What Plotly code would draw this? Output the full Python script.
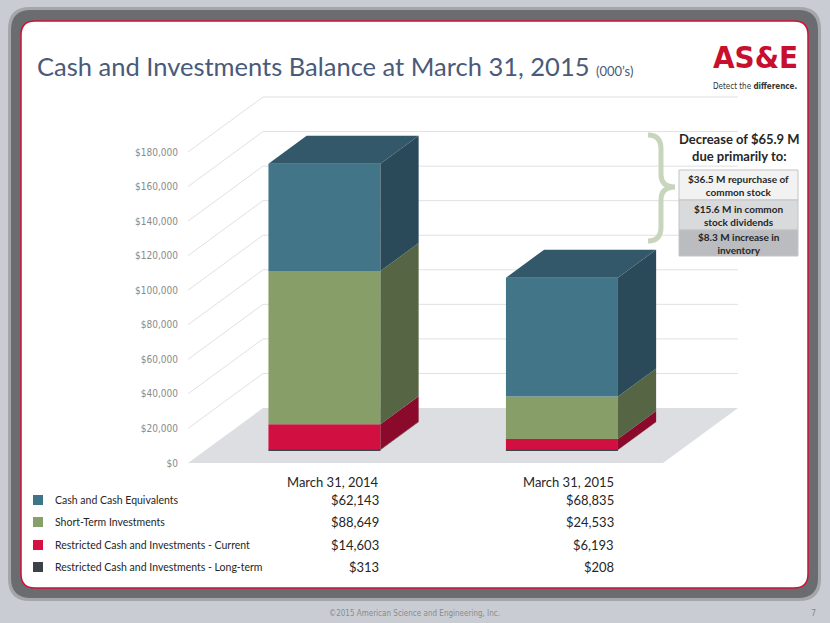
import plotly.graph_objects as go

# ---------------- data ----------------
categories = ["March 31, 2014", "March 31, 2015"]
series_names = ["Cash and Cash Equivalents", "Short-Term Investments",
                "Restricted Cash and Investments - Current",
                "Restricted Cash and Investments - Long-term"]
cash = [62143, 68835]
short_term = [88649, 24533]
restricted_current = [14603, 6193]
restricted_longterm = [313, 208]
y_ticks = [0, 20000, 40000, 60000, 80000, 100000, 120000, 140000, 160000, 180000]
y_tick_labels = [f"${v:,}" for v in y_ticks]
note_title = "Decrease of $65.9 M<br>due primarily to:"
note_items = ["$36.5 M repurchase of<br>common stock",
              "$15.6 M in common<br>stock dividends",
              "$8.3 M increase in<br>inventory"]

# ---------------- geometry / style constants ----------------
W, H = 830, 623
L, R, T, B = 188, 85, 88, 153
PW, PH = W - L - R, H - T - B
PB = H - B
K = 311 / 180000.0          # px per value unit
X0PX, XU = 306.75, 237.5     # px of category 0, px per category
FLOOR_FRONT = 463

def xval(px):
    return (px - X0PX) / XU

x_range = [xval(L), xval(W - R)]
y_range = [(FLOOR_FRONT - PB) / K, (FLOOR_FRONT - T) / K]

DX = 75 / XU                 # full floor depth (x units)
DY = 55 / K                  # full floor depth (value units)
D_FRONT, D_BACK = 0.236, 0.745
BD = D_BACK - D_FRONT
BAR_W = 112 / XU
X_LEFT = -0.5
X_RIGHT = 1.5

def px(x):
    return (x - L) / PW

def py(y):
    return (PB - y) / PH

NARROW = "DejaVu Sans Condensed, Liberation Sans, Arial, sans-serif"
FONT = "Lato, sans-serif"
TXT = "#262626"

colors_front = {"cash": "#437589", "st": "#889e69", "rc": "#d10f40", "lt": "#3e444c"}
colors_side = {"cash": "#2a4a5a", "st": "#566645", "rc": "#8b0a2b", "lt": "#262a30"}
color_top = "#33586a"

stack = [("lt", series_names[3], restricted_longterm),
         ("rc", series_names[2], restricted_current),
         ("st", series_names[1], short_term),
         ("cash", series_names[0], cash)]

fig = go.Figure()

# front faces + side faces
cum = [0.0] * len(categories)
xs_front = [i + D_FRONT * DX for i in range(len(categories))]
base_off = D_FRONT * DY
side_traces = []
for key, name, vals in stack:
    bases = [cum[i] + base_off for i in range(len(categories))]
    fig.add_trace(go.Bar(x=xs_front, y=vals, base=bases, width=BAR_W, name=name,
                         marker=dict(color=colors_front[key], line=dict(width=0)),
                         showlegend=False))
    sx, sy = [], []
    for i in range(len(categories)):
        xr = xs_front[i] + BAR_W / 2
        y0 = bases[i]
        y1 = bases[i] + vals[i]
        sx += [xr, xr, xr + BD * DX, xr + BD * DX, xr, None]
        sy += [y0, y1, y1 + BD * DY, y0 + BD * DY, y0, None]
    side_traces.append(go.Scatter(x=sx, y=sy, mode="lines", fill="toself",
                                  fillcolor=colors_side[key], line=dict(width=0, color=colors_side[key]),
                                  hoverinfo="skip", showlegend=False))
    cum = [cum[i] + vals[i] for i in range(len(categories))]
for tr in side_traces:
    fig.add_trace(tr)

# top faces
tx, ty = [], []
for i in range(len(categories)):
    xl = xs_front[i] - BAR_W / 2
    xr = xs_front[i] + BAR_W / 2
    top = cum[i] + base_off
    tx += [xl, xr, xr + BD * DX, xl + BD * DX, xl, None]
    ty += [top, top, top + BD * DY, top + BD * DY, top, None]
fig.add_trace(go.Scatter(x=tx, y=ty, mode="lines", fill="toself", fillcolor=color_top,
                         line=dict(width=0, color=color_top), hoverinfo="skip", showlegend=False))

shapes = []

def rrect_path(x0, y0, x1, y1, r):
    pts = [("M", [(x0 + r, y0)]), ("L", [(x1 - r, y0)]), ("Q", [(x1, y0), (x1, y0 + r)]),
           ("L", [(x1, y1 - r)]), ("Q", [(x1, y1), (x1 - r, y1)]), ("L", [(x0 + r, y1)]),
           ("Q", [(x0, y1), (x0, y1 - r)]), ("L", [(x0, y0 + r)]), ("Q", [(x0, y0), (x0 + r, y0)])]
    s = ""
    for cmd, ps in pts:
        s += cmd + " " + " ".join(f"{px(a):.5f},{py(b):.5f}" for a, b in ps) + " "
    return s + "Z"

# slide frame
shapes.append(dict(type="path", xref="paper", yref="paper", layer="below",
                   path=rrect_path(8, 7, 821, 601, 22), fillcolor="#a3a7ac", line=dict(width=0)))
shapes.append(dict(type="path", xref="paper", yref="paper", layer="below",
                   path=rrect_path(11, 10, 818, 598, 20), fillcolor="#6a6c6f", line=dict(width=0)))
shapes.append(dict(type="path", xref="paper", yref="paper", layer="below",
                   path=rrect_path(21, 21, 808, 588, 14), fillcolor="#ffffff",
                   line=dict(color="#d0103a", width=1.5)))

# walls grid
grid_col = "#e1e1e1"
for t in y_ticks[1:]:
    shapes.append(dict(type="line", xref="x", yref="y", layer="below",
                       x0=X_LEFT, y0=t, x1=X_LEFT + DX, y1=t + DY, line=dict(color=grid_col, width=1)))
    shapes.append(dict(type="line", xref="x", yref="y", layer="below",
                       x0=X_LEFT + DX, y0=t + DY, x1=X_RIGHT + DX, y1=t + DY,
                       line=dict(color=grid_col, width=1)))
# floor
fx = [X_LEFT, X_RIGHT, X_RIGHT + DX, X_LEFT + DX]
fy = [0, 0, DY, DY]
fpath = "M " + " L ".join(f"{a},{b}" for a, b in zip(fx, fy)) + " Z"
shapes.append(dict(type="path", xref="x", yref="y", layer="below", path=fpath,
                   fillcolor="#dcdee1", line=dict(width=0)))

# brace
brace = (f"M {px(648):.5f},{py(135):.5f} Q {px(661):.5f},{py(135):.5f} {px(661):.5f},{py(149):.5f} "
         f"L {px(661):.5f},{py(174):.5f} Q {px(661):.5f},{py(187):.5f} {px(675):.5f},{py(187):.5f} "
         f"Q {px(661):.5f},{py(187):.5f} {px(661):.5f},{py(200):.5f} "
         f"L {px(661):.5f},{py(227):.5f} Q {px(661):.5f},{py(241):.5f} {px(648):.5f},{py(241):.5f}")
shapes.append(dict(type="path", xref="paper", yref="paper", path=brace,
                   line=dict(color="#c8d5bd", width=5)))

# note boxes
box_y = [(170, 200), (200, 230), (230, 256)]
box_fill = ["#f2f2f2", "#d9dadc", "#babcbf"]
for (y0, y1), fc in zip(box_y, box_fill):
    shapes.append(dict(type="rect", xref="paper", yref="paper",
                       x0=px(679), x1=px(798), y0=py(y1), y1=py(y0),
                       fillcolor=fc, line=dict(color="#c4c4c4", width=1)))

# legend squares
leg_cols = ["#3f7489", "#87a06a", "#d6103f", "#3d4249"]
row_y = [500, 522, 545, 567]
for yc, c in zip(row_y, leg_cols):
    shapes.append(dict(type="rect", xref="paper", yref="paper",
                       x0=px(33), x1=px(43), y0=py(yc + 5), y1=py(yc - 5),
                       fillcolor=c, line=dict(width=0)))

ann = []
ann.append(dict(x=px(35), y=py(66), xref="paper", yref="paper", xanchor="left", yanchor="middle",
                showarrow=False,
                text="Cash and Investments Balance at March 31, 2015 <span style='font-size:13px'>(000’s)</span>",
                font=dict(family=FONT, size=25.5, color="#4a5a78")))
# logo
ann.append(dict(x=px(755), y=py(57), xref="paper", yref="paper", xanchor="center", yanchor="middle",
                showarrow=False, text="<b>AS&amp;E</b>",
                font=dict(family=NARROW, size=31, color="#c8102e")))
ann.append(dict(x=px(755), y=py(87), xref="paper", yref="paper", xanchor="center", yanchor="middle",
                showarrow=False, text="Detect the <b>difference.</b>",
                font=dict(family=NARROW, size=8, color="#333333")))
# note
ann.append(dict(x=px(739), y=py(147), xref="paper", yref="paper", xanchor="center", yanchor="middle",
                showarrow=False, text="<b>" + note_title + "</b>",
                font=dict(family=FONT, size=13, color=TXT)))
for (y0, y1), t in zip(box_y, note_items):
    ann.append(dict(x=px(738.5), y=py((y0 + y1) / 2), xref="paper", yref="paper",
                    xanchor="center", yanchor="middle", showarrow=False, text="<b>" + t + "</b>",
                    font=dict(family=FONT, size=10, color=TXT)))
# table
col_x = [381, 616]
for cx, cat in zip(col_x, categories):
    ann.append(dict(x=px(cx), y=py(482), xref="paper", yref="paper", xanchor="right", yanchor="middle",
                    showarrow=False, text=cat, font=dict(family=FONT, size=13, color=TXT)))
table_vals = [cash, short_term, restricted_current, restricted_longterm]
for yc, name, vals in zip(row_y, series_names, table_vals):
    ann.append(dict(x=px(53), y=py(yc), xref="paper", yref="paper", xanchor="left", yanchor="middle",
                    showarrow=False, text=name, font=dict(family=FONT, size=10.5, color=TXT)))
    for cx, v in zip(col_x, vals):
        ann.append(dict(x=px(cx), y=py(yc), xref="paper", yref="paper", xanchor="right",
                        yanchor="middle", showarrow=False, text=f"${v:,}",
                        font=dict(family=FONT, size=13, color=TXT)))
# footer
ann.append(dict(x=px(414), y=py(613), xref="paper", yref="paper", xanchor="center", yanchor="middle",
                showarrow=False, text="©2015 American Science and Engineering, Inc.",
                font=dict(family=NARROW, size=8, color="#8a8a8a")))
ann.append(dict(x=px(813), y=py(613), xref="paper", yref="paper", xanchor="center", yanchor="middle",
                showarrow=False, text="7",
                font=dict(family=NARROW, size=9, color="#8a8a8a")))

fig.update_layout(
    width=W, height=H,
    margin=dict(l=L, r=R, t=T, b=B, autoexpand=False),
    paper_bgcolor="#c9cdd3", plot_bgcolor="rgba(0,0,0,0)",
    barmode="overlay", showlegend=False,
    shapes=shapes, annotations=ann,
    xaxis=dict(range=x_range, visible=False, fixedrange=True),
    yaxis=dict(range=y_range, tickvals=y_ticks, ticktext=y_tick_labels,
               showgrid=False, zeroline=False, showline=False,
               ticks="outside", ticklen=7, tickcolor="rgba(0,0,0,0)",
               tickfont=dict(family=NARROW, size=10, color="#8a8a8a"),
               fixedrange=True),
)

fig.write_html("out.html", config={"displayModeBar": False},
               post_script="document.body.style.margin='0';document.body.style.padding='0';"
                           "document.body.style.overflow='hidden';")
